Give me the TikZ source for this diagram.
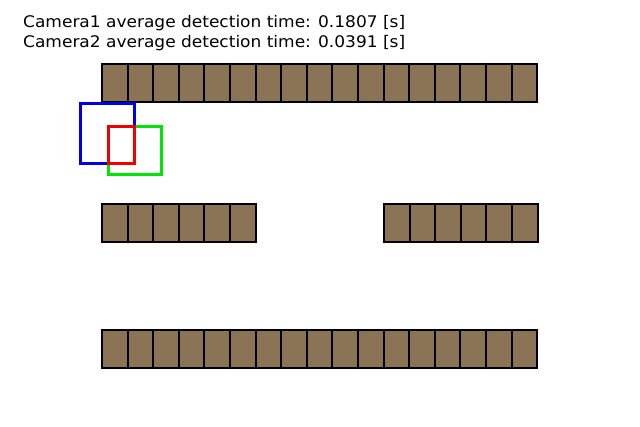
\documentclass[tikz,border=0pt]{standalone}
\usepackage{fontspec}
\usepackage{graphicx}
\setmainfont{DejaVu Sans}
\definecolor{shelf}{RGB}{139,116,86}
\definecolor{camblue}{RGB}{0,0,230}
\definecolor{camred}{RGB}{240,0,0}
\definecolor{camgreen}{RGB}{0,230,0}
\begin{document}
\begin{tikzpicture}[x=1pt,y=-1pt,
  cell/.style={draw=black,fill=shelf,line width=2pt,minimum width=25.6pt,minimum height=38pt,inner sep=0pt,outer sep=0pt,anchor=north west},
  cam/.style={line width=3pt},
  label/.style={anchor=base west,inner sep=0pt,font=\fontsize{16}{18}\selectfont}]
\fill[white] (0,0) rectangle (640,427);
\useasboundingbox (0,0) rectangle (640,427);
\node[label] (t1) at (23,28) {\resizebox{382pt}{\height}{Camera1 average detection time: 0.1807 [s]}};
\node[label] (t2) at (23,48) {\resizebox{382pt}{\height}{Camera2 average detection time: 0.0391 [s]}};
\foreach \i in {0,...,16}{
  \node[cell] (top\i) at ({102+25.6*\i},64) {};
  \node[cell] (bot\i) at ({102+25.6*\i},330) {};
}
\foreach \i in {0,...,5}{
  \node[cell] (ml\i) at ({102+25.6*\i},204) {};
  \node[cell] (mr\i) at ({384+25.6*\i},204) {};
}
\draw[cam,draw=camgreen] (108,127) rectangle (161.5,175);
\draw[cam,draw=camblue] (80.5,104) rectangle (134.5,164);
\draw[cam,draw=camred] (108,127) rectangle (134.5,164);
\end{tikzpicture}
\end{document}
